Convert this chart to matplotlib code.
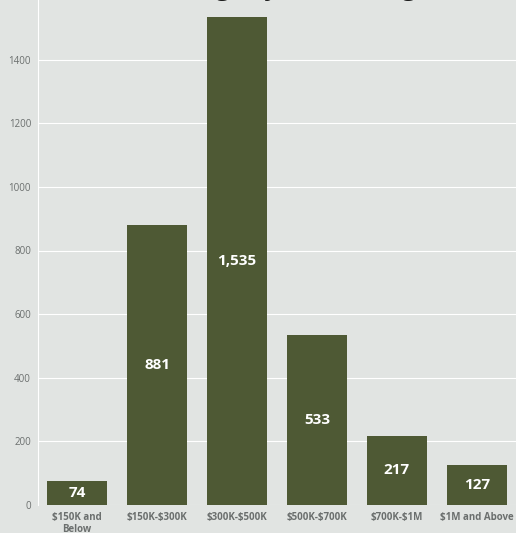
import matplotlib
matplotlib.use("Agg")
import matplotlib.pyplot as plt

categories = ["\\$150K and\nBelow", "\\$150K-\\$300K", "\\$300K-\\$500K", "\\$500K-\\$700K", "\\$700K-\\$1M", "\\$1M and Above"]
values = [74, 881, 1535, 533, 217, 127]
value_labels = ["74", "881", "1,535", "533", "217", "127"]
yticks = [0, 200, 400, 600, 800, 1000, 1200, 1400, 1600]
title = "Listings by Price Range"

bg = "#e1e4e2"
bar_color = "#4e5934"
tick_color = "#6b6f6e"

fig = plt.figure(figsize=(5.16, 5.33), dpi=100, facecolor=bg)
ax = fig.add_axes([38/516, 28/533, 478/516, 509/533])
ax.set_facecolor(bg)

x = list(range(len(categories)))
bars = ax.bar(x, values, width=0.75, color=bar_color, zorder=3)
for xi, v, lab in zip(x, values, value_labels):
    ax.text(xi, v / 2, lab, ha="center", va="center", color="white",
            fontsize=11, fontweight="bold", family="Open Sans", zorder=4)

ax.set_xlim(-0.49, 5.49)
ax.set_ylim(0, 1600)
ax.set_yticks(yticks)
ax.set_yticklabels([str(t) for t in yticks], fontsize=7, color=tick_color, family="Open Sans")
ax.set_xticks(x)
ax.set_xticklabels(categories, fontsize=7, color=tick_color, fontweight="bold",
                   family="Open Sans", linespacing=1.15)
ax.tick_params(axis="both", length=0, pad=5)
ax.tick_params(axis="x", pad=5)
ax.grid(axis="y", color="white", linewidth=0.8, zorder=0)
for s in ["top", "right", "bottom"]:
    ax.spines[s].set_visible(False)
ax.spines["left"].set_color("white")
ax.spines["left"].set_linewidth(0.8)

fig.text(0.56, 1 + 4.8/533, title, ha="center", va="baseline", fontsize=18, fontweight="bold",
         color="#1a1a1a", family="Open Sans")

fig.savefig("out.png", dpi=100, facecolor=bg)
